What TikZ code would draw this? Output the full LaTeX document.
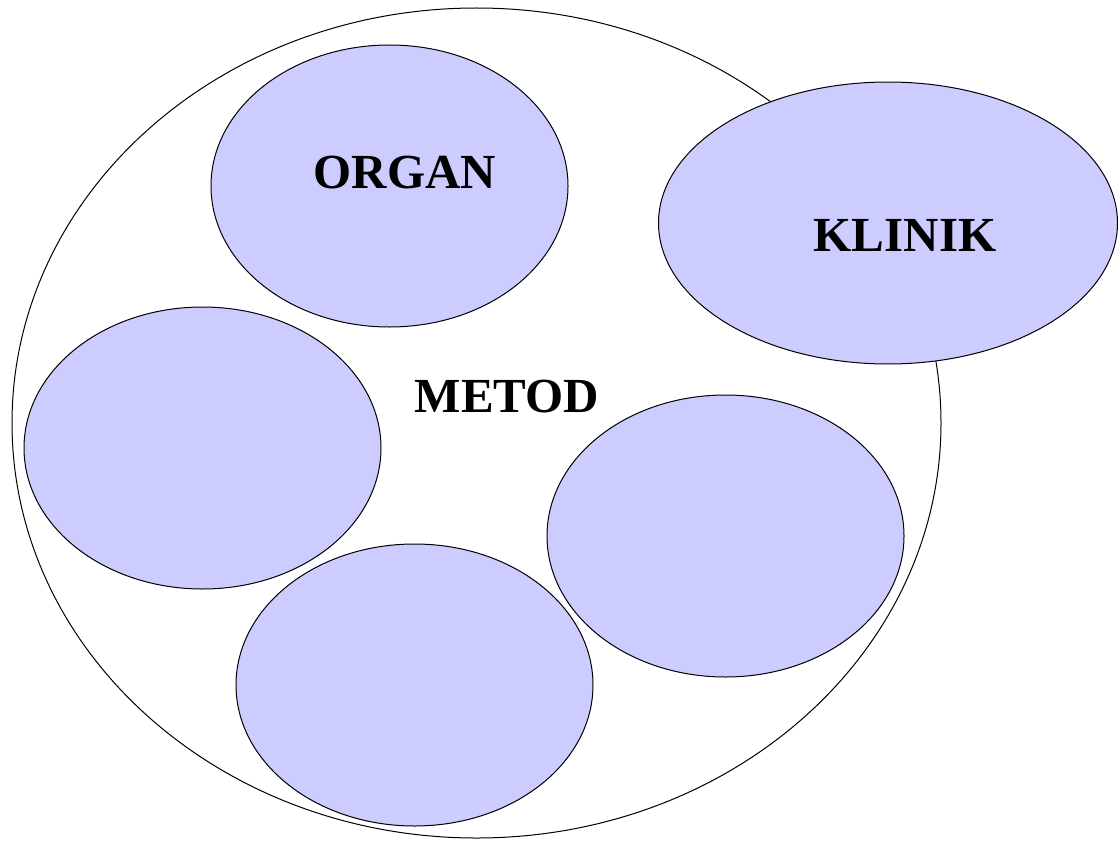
\documentclass[tikz,border=0pt]{standalone}
\usepackage{fontspec}
\setmainfont{Liberation Serif}
\usetikzlibrary{shapes.geometric}
\definecolor{lav}{HTML}{CCCCFF}
\tikzset{
  blob/.style={draw=black, line width=1pt, fill=lav},
  lbl/.style={font=\bfseries\fontsize{49}{55}\selectfont, inner sep=0pt}
}
\begin{document}
\begin{tikzpicture}[x=1pt,y=-1pt]
\useasboundingbox (0,0) rectangle (1118,840);
% outer domain
\draw[line width=1pt] (476.5,423) ellipse [x radius=464.5, y radius=415];
% inner areas
\draw[blob] (389.5,186) ellipse [x radius=178.5, y radius=141];
\draw[blob] (202.5,448) ellipse [x radius=178.5, y radius=141];
\draw[blob] (725.5,536) ellipse [x radius=178.5, y radius=141];
\draw[blob] (414.5,685) ellipse [x radius=178.5, y radius=141];
% overlapping area on the rim
\draw[blob] (888,223) ellipse [x radius=229.5, y radius=141];
% labels
\node[lbl] (organ) at (405,173) {ORGAN};
\node[lbl] (klinik) at (905,235) {KLINIK};
\node[lbl] (metod) at (507,397) {METOD};
\end{tikzpicture}
\end{document}
